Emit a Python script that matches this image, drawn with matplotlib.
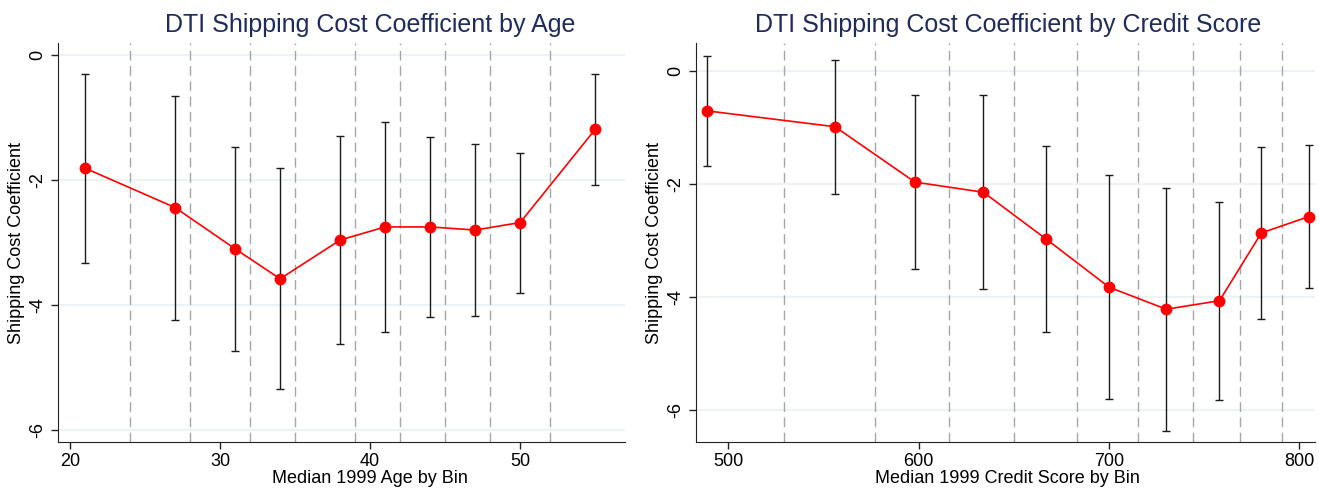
import numpy as np
import matplotlib.pyplot as plt

plt.rcParams['font.family'] = ['Liberation Sans', 'DejaVu Sans']

# Age bins
age_mid = [21, 27, 31, 34, 38, 41, 44, 47, 50, 55]
age_coef = [-1.81, -2.44, -3.10, -3.58, -2.96, -2.75, -2.75, -2.80, -2.68, -1.19]
age_hi = [-0.30, -0.65, -1.47, -1.81, -1.30, -1.07, -1.31, -1.43, -1.56, -0.30]
age_lo = [-3.32, -4.24, -4.74, -5.35, -4.62, -4.43, -4.19, -4.17, -3.81, -2.08]
age_edges = [24, 28, 32, 35, 39, 42, 45, 48, 52]

# Credit score bins
cs_mid = [489, 556, 598, 634, 667, 700, 730, 758, 780, 805]
cs_coef = [-0.70, -0.98, -1.96, -2.14, -2.97, -3.82, -4.21, -4.06, -2.86, -2.57]
cs_hi = [0.28, 0.20, -0.42, -0.41, -1.32, -1.84, -2.06, -2.32, -1.34, -1.30]
cs_lo = [-1.68, -2.17, -3.49, -3.86, -4.62, -5.80, -6.36, -5.81, -4.38, -3.84]
cs_edges = [529, 577, 616, 650, 683, 715, 744, 769, 791]

fig = plt.figure(figsize=(13.19, 4.9), dpi=100)
ax1 = fig.add_axes([0.044, 0.098, 0.430, 0.814])
ax2 = fig.add_axes([0.5277, 0.098, 0.469, 0.814])


def draw(ax, x, y, hi, lo, edges, title, xlabel, xticks, xlim, ylim, xc):
    x = np.array(x)
    y = np.array(y)
    yerr = [y - np.array(lo), np.array(hi) - y]
    for t in [0, -2, -4, -6]:
        ax.axhline(t, color='#eaf0f2', lw=1.2, zorder=0)
    for e in edges:
        ax.axvline(e, color='#a6a6a6', lw=1.0, ls=(0, (7, 4)), zorder=1)
    ax.errorbar(x, y, yerr=yerr, fmt='none', ecolor='#1a1a1a', elinewidth=1.0,
                capsize=3, capthick=1.0, zorder=2)
    ax.plot(x, y, color='#ff0000', lw=1.2, marker='o', ms=7.5, zorder=3)
    ax.set_xlim(*xlim)
    ax.set_ylim(*ylim)
    ax.set_xticks(xticks)
    ax.set_yticks([0, -2, -4, -6])
    ax.set_yticklabels(['0', '-2', '-4', '-6'], rotation=90, va='center')
    ax.tick_params(axis='both', labelsize=13, length=5, width=1, color='#222222')
    ax.tick_params(axis='x', pad=3)
    ax.spines['top'].set_visible(False)
    ax.spines['right'].set_visible(False)
    ax.spines['left'].set_color('#222222')
    ax.spines['bottom'].set_color('#222222')
    ax.set_title(title, color='#1e2b5c', fontsize=18, x=xc, pad=8)
    ax.set_xlabel(xlabel, fontsize=13, labelpad=0, x=xc)
    ax.set_ylabel('Shipping Cost Coefficient', fontsize=13, labelpad=3)


draw(ax1, age_mid, age_coef, age_hi, age_lo, age_edges,
     'DTI Shipping Cost Coefficient by Age', 'Median 1999 Age by Bin',
     [20, 30, 40, 50], (19.2, 57.0), (-6.19, 0.19), 0.55)
draw(ax2, cs_mid, cs_coef, cs_hi, cs_lo, cs_edges,
     'DTI Shipping Cost Coefficient by Credit Score', 'Median 1999 Credit Score by Bin',
     [500, 600, 700, 800], (483, 808), (-6.56, 0.50), 0.504)

fig.savefig('out.png', dpi=100, facecolor='white')
